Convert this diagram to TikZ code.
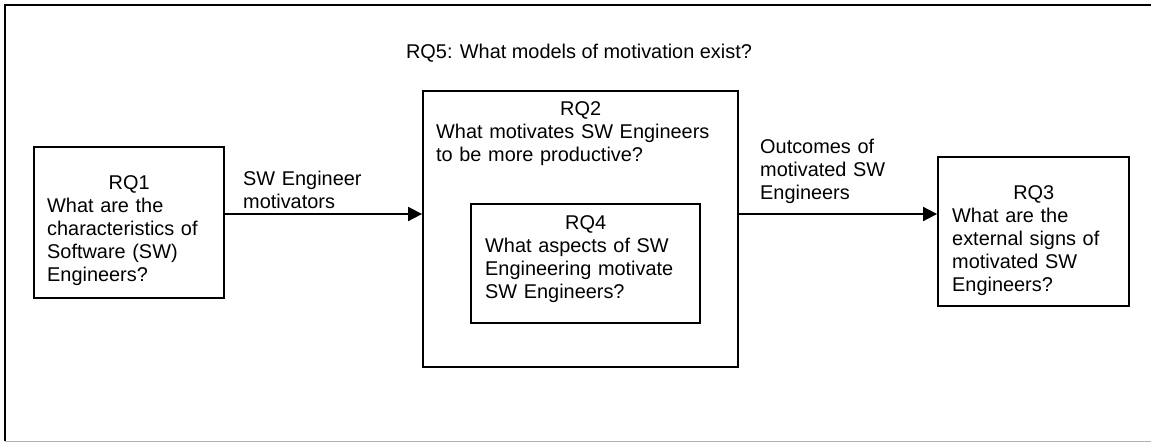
\documentclass[tikz,border=0pt]{standalone}
\usepackage{fontspec}
\setmainfont{Liberation Sans}
\usetikzlibrary{arrows.meta}
\newcommand{\rqfont}{\fontsize{19.9}{23}\selectfont}

\begin{document}
\begin{tikzpicture}[x=1pt, y=-1pt,
    question/.style ={rectangle, draw, line width=1.8pt, inner sep=0pt},
    words/.style ={inner sep=0pt, align=left, font=\rqfont},
    flow/.style ={line width=1.8pt, -{Triangle[length=14pt,width=14pt]}}]
   \useasboundingbox (0,0) rectangle (1151,442);
   \draw[line width=2pt] (1151,5) -- (5,5) -- (5,441);
   \draw[line width=1pt, gray!60] (5,441) -- (1151,441);

   \node[question, minimum width=190pt, minimum height=151pt] (RQ1) at (129,222.5) {};
   \node[question, minimum width=315pt, minimum height=276pt] (RQ2) at (580.5,229) {};
   \node[question, minimum width=229pt, minimum height=119pt] (RQ4) at (585.5,263.5) {};
   \node[question, minimum width=191pt, minimum height=149pt] (RQ3) at (1033.5,231.5) {};

   \node[words, anchor=base west, text width=164pt] (RQ1text) at (47,189)
     {\makebox[\linewidth]{RQ1}\\What are the\\characteristics of\\Software (SW)\\Engineers?};
   \node[words, anchor=base west, text width=289pt] (RQ2text) at (436,115)
     {\makebox[\linewidth]{RQ2}\\What motivates SW Engineers\\to be more productive?};
   \node[words, anchor=base west, text width=201pt] (RQ4text) at (485,229)
     {\makebox[\linewidth]{RQ4}\\What aspects of SW\\Engineering motivate\\SW Engineers?};
   \node[words, anchor=base west, text width=163pt] (RQ3text) at (952,199)
     {\makebox[\linewidth]{RQ3}\\What are the\\external signs of\\motivated SW\\Engineers?};
   \node[words, anchor=base] (RQ5) at (579,58) {RQ5: What models of motivation exist?};

   \coordinate (level) at (0,214);
   \draw[flow] (RQ1.east |- level) to (RQ2.west |- level);
   \draw[flow] (RQ2.east |- level) to (RQ3.west |- level);

   \node[words, anchor=base west, text width=160pt] (motivators) at (243,185) {SW Engineer\\motivators};
   \node[words, anchor=base west, text width=160pt] (outcomes) at (760,153) {Outcomes of\\motivated SW\\Engineers};
\end{tikzpicture}
\end{document}
